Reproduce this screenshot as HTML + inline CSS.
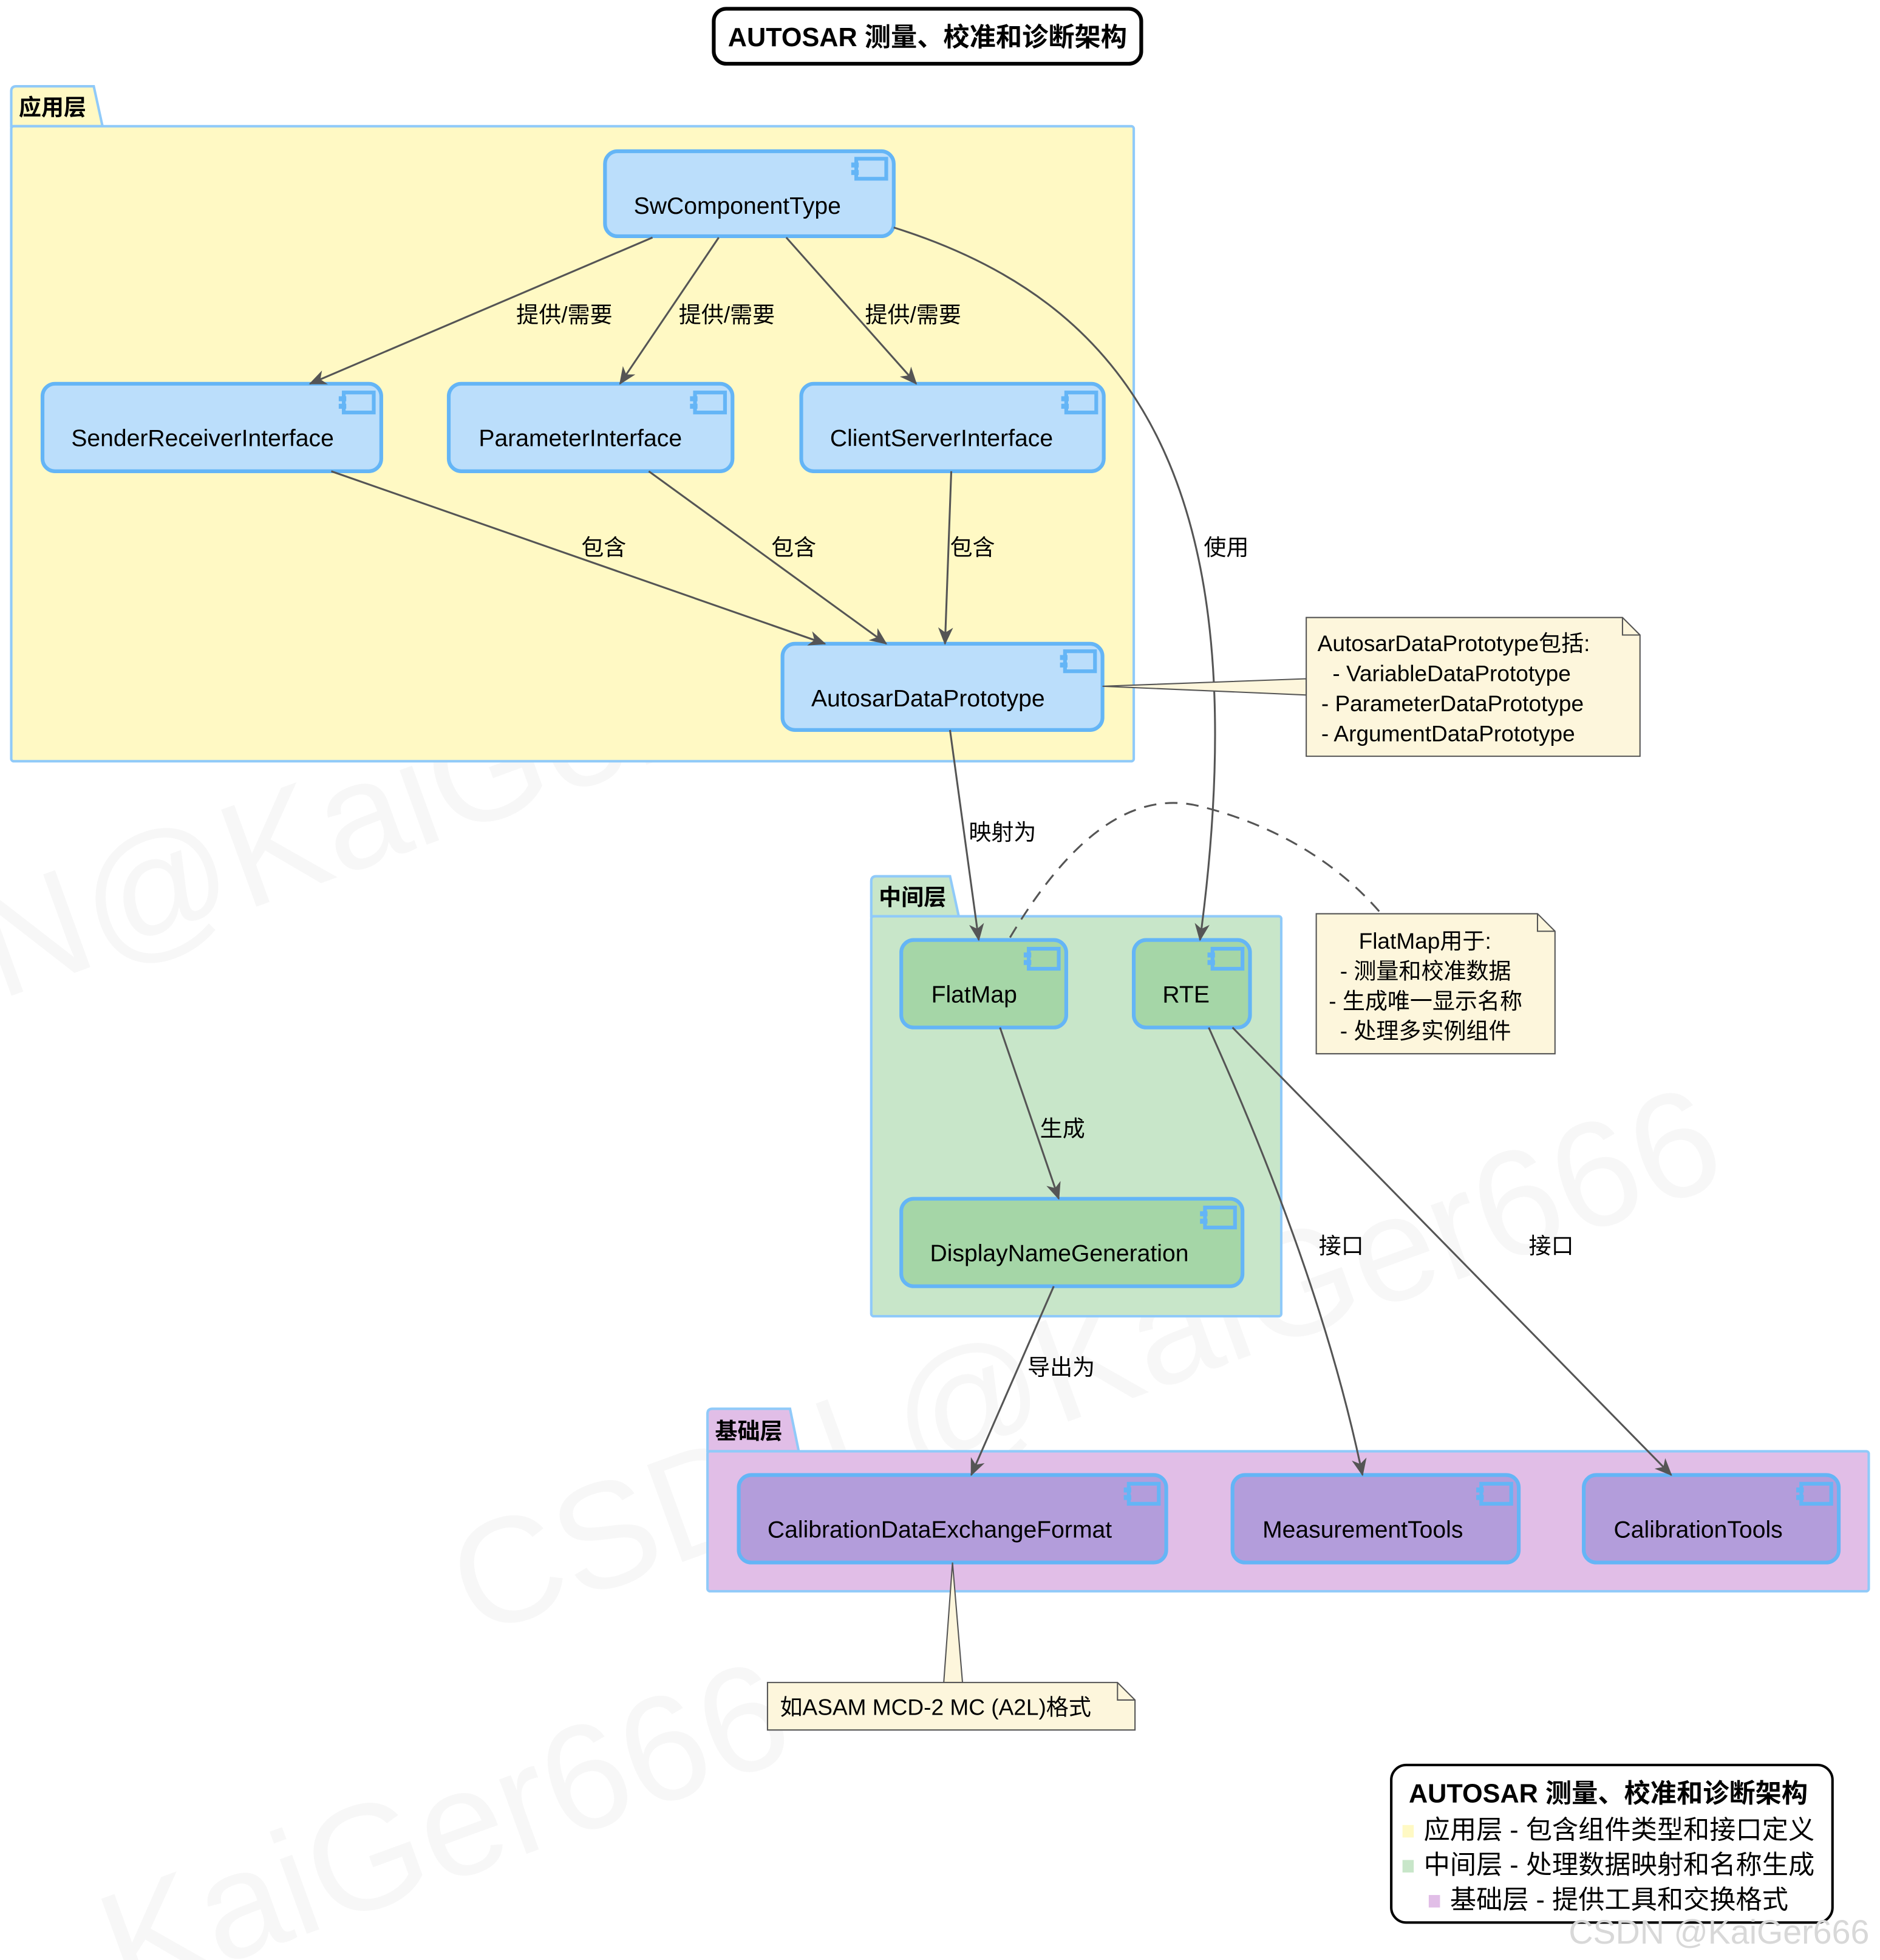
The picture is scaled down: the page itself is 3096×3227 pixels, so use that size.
<!DOCTYPE html>
<html><head><meta charset="utf-8"><style>
html,body{margin:0;padding:0;background:#fff}
svg{display:block}
text{font-family:"Liberation Sans","Noto Sans CJK SC",sans-serif;fill:#000}
</style></head><body>
<svg width="3096" height="3227" viewBox="0 0 1504 1568" preserveAspectRatio="none" xmlns="http://www.w3.org/2000/svg">
<defs>
<marker id="a" markerWidth="14" markerHeight="12" refX="13" refY="6" orient="auto" markerUnits="userSpaceOnUse">
<path d="M0,0 L14,6 L0,12 L4,6 z" fill="#555"/>
</marker>
<g id="ic"><rect x="0" y="0" width="24" height="16" fill="none" stroke="#64b5f6" stroke-width="3"/><rect x="-4" y="3" width="6" height="4" fill="#64b5f6"/><rect x="-4" y="9" width="6" height="4" fill="#64b5f6"/></g>
</defs>
<rect width="1504" height="1568" fill="#fff"/>
<!-- watermarks -->
<g fill="#f3f3f3" font-size="120" opacity="0.6">
<text x="0" y="800" transform="rotate(-20 0 800)" style="fill:#f2f2f2">N@KaiGer666</text>
<text x="380" y="1310" transform="rotate(-20 380 1310)" style="fill:#f2f2f2">CSDN @KaiGer666</text>
<text x="100" y="1600" transform="rotate(-20 100 1600)" style="fill:#f2f2f2">KaiGer666</text>
</g>
<!-- title -->
<rect x="571" y="7" width="342" height="44" rx="10" fill="#fff" stroke="#000" stroke-width="3"/>
<text x="742" y="37" font-size="21" font-weight="bold" text-anchor="middle">AUTOSAR 测量、校准和诊断架构</text>
<!-- packages -->
<path d="M9,101 L9,73 Q9,69 13,69 L75,69 L82,101 Z" fill="#fff9c4" stroke="#90caf9" stroke-width="2"/>
<rect x="9" y="101" width="898" height="508" rx="2" fill="#fff9c4" stroke="#90caf9" stroke-width="2"/>
<text x="15" y="92" font-size="18" font-weight="bold">应用层</text>
<path d="M697,733 L697,705 Q697,701 701,701 L760,701 L767,733 Z" fill="#c8e6c9" stroke="#90caf9" stroke-width="2"/>
<rect x="697" y="733" width="328" height="320" rx="2" fill="#c8e6c9" stroke="#90caf9" stroke-width="2"/>
<text x="703" y="724" font-size="18" font-weight="bold">中间层</text>
<path d="M566,1161 L566,1131 Q566,1127 570,1127 L632,1127 L639,1161 Z" fill="#e1bee7" stroke="#90caf9" stroke-width="2"/>
<rect x="566" y="1161" width="929" height="112" rx="2" fill="#e1bee7" stroke="#90caf9" stroke-width="2"/>
<text x="572" y="1151" font-size="18" font-weight="bold">基础层</text>
<!-- nodes -->
<g stroke="#64b5f6" stroke-width="3">
<rect x="484" y="121" width="231" height="68" rx="10" fill="#bbdefb"/>
<rect x="34" y="307" width="271" height="70" rx="10" fill="#bbdefb"/>
<rect x="359" y="307" width="227" height="70" rx="10" fill="#bbdefb"/>
<rect x="641" y="307" width="242" height="70" rx="10" fill="#bbdefb"/>
<rect x="626" y="515" width="256" height="69" rx="10" fill="#bbdefb"/>
<rect x="721" y="752" width="132" height="70" rx="10" fill="#a5d6a7"/>
<rect x="907" y="752" width="93" height="70" rx="10" fill="#a5d6a7"/>
<rect x="721" y="959" width="273" height="70" rx="10" fill="#a5d6a7"/>
<rect x="591" y="1180" width="342" height="70" rx="10" fill="#b39ddb"/>
<rect x="986" y="1180" width="229" height="70" rx="10" fill="#b39ddb"/>
<rect x="1267" y="1180" width="204" height="70" rx="10" fill="#b39ddb"/>
</g>
<use href="#ic" x="685" y="127"/>
<use href="#ic" x="275" y="314"/>
<use href="#ic" x="556" y="314"/>
<use href="#ic" x="853" y="314"/>
<use href="#ic" x="852" y="521"/>
<use href="#ic" x="823" y="759"/>
<use href="#ic" x="970" y="759"/>
<use href="#ic" x="964" y="966"/>
<use href="#ic" x="903" y="1187"/>
<use href="#ic" x="1185" y="1187"/>
<use href="#ic" x="1441" y="1187"/>
<g font-size="19">
<text x="507" y="171">SwComponentType</text>
<text x="57" y="357">SenderReceiverInterface</text>
<text x="383" y="357">ParameterInterface</text>
<text x="664" y="357">ClientServerInterface</text>
<text x="649" y="565">AutosarDataPrototype</text>
<text x="745" y="802">FlatMap</text>
<text x="930" y="802">RTE</text>
<text x="744" y="1009">DisplayNameGeneration</text>
<text x="614" y="1230">CalibrationDataExchangeFormat</text>
<text x="1010" y="1230">MeasurementTools</text>
<text x="1291" y="1230">CalibrationTools</text>
</g>
<!-- edges -->
<g stroke="#555" stroke-width="1.5" fill="none" marker-end="url(#a)">
<path d="M522,190 L248,307"/>
<path d="M575,190 L496,307"/>
<path d="M629,190 L733,307"/>
<path d="M715,182 C900,240 1010,380 960,752"/>
<path d="M265,377 L660,515"/>
<path d="M519,377 L709,515"/>
<path d="M761,377 L756,515"/>
<path d="M760,584 L783,752"/>
<path d="M800,822 L847,959"/>
<path d="M843,1029 L777,1180"/>
<path d="M967,822 C1020,940 1065,1060 1090,1180"/>
<path d="M986,822 L1337,1180"/>
</g>
<g font-size="18">
<text x="413" y="258">提供/需要</text>
<text x="543" y="258">提供/需要</text>
<text x="692" y="258">提供/需要</text>
<text x="963" y="444">使用</text>
<text x="465" y="444">包含</text>
<text x="617" y="444">包含</text>
<text x="760" y="444">包含</text>
<text x="775" y="672">映射为</text>
<text x="832" y="909">生成</text>
<text x="822" y="1100">导出为</text>
<text x="1055" y="1003">接口</text>
<text x="1223" y="1003">接口</text>
</g>
<!-- notes -->
<path d="M882,549 L1045,543 L1045,556 Z" fill="#fdf6dc" stroke="#555" stroke-width="1"/>
<path d="M1045,494 L1298,494 L1312,508 L1312,605 L1045,605 Z" fill="#fdf6dc" stroke="#555" stroke-width="1"/>
<path d="M1298,494 L1298,508 L1312,508" fill="none" stroke="#555" stroke-width="1"/>
<g font-size="18">
<text x="1054" y="521">AutosarDataPrototype包括:</text>
<text x="1066" y="545">- VariableDataPrototype</text>
<text x="1057" y="569">- ParameterDataPrototype</text>
<text x="1057" y="593">- ArgumentDataPrototype</text>
</g>
<path d="M808,750 C850,680 900,630 960,645 C1020,660 1070,690 1105,731" fill="none" stroke="#555" stroke-width="1.5" stroke-dasharray="10,7"/>
<path d="M1053,731 L1230,731 L1244,745 L1244,843 L1053,843 Z" fill="#fdf6dc" stroke="#555" stroke-width="1"/>
<path d="M1230,731 L1230,745 L1244,745" fill="none" stroke="#555" stroke-width="1"/>
<g font-size="18">
<text x="1087" y="759">FlatMap用于:</text>
<text x="1072" y="783">- 测量和校准数据</text>
<text x="1063" y="807">- 生成唯一显示名称</text>
<text x="1072" y="831">- 处理多实例组件</text>
</g>
<path d="M762,1250 L755,1346 L770,1346 Z" fill="#fdf6dc" stroke="#555" stroke-width="1"/>
<path d="M614,1346 L894,1346 L908,1360 L908,1384 L614,1384 Z" fill="#fdf6dc" stroke="#555" stroke-width="1"/>
<path d="M894,1346 L894,1360 L908,1360" fill="none" stroke="#555" stroke-width="1"/>
<text x="624" y="1372" font-size="18">如ASAM MCD-2 MC (A2L)格式</text>
<!-- legend -->
<rect x="1113" y="1412" width="353" height="126" rx="12" fill="#fff" stroke="#000" stroke-width="2"/>
<text x="1127" y="1442" font-size="21" font-weight="bold">AUTOSAR 测量、校准和诊断架构</text>
<rect x="1122" y="1460" width="9" height="10" fill="#fff9c4"/>
<rect x="1122" y="1488" width="9" height="10" fill="#c8e6c9"/>
<rect x="1143" y="1516" width="9" height="10" fill="#e1bee7"/>
<g font-size="21">
<text x="1139" y="1471">应用层 - 包含组件类型和接口定义</text>
<text x="1139" y="1499">中间层 - 处理数据映射和名称生成</text>
<text x="1160" y="1527">基础层 - 提供工具和交换格式</text>
</g>
<text x="1255" y="1555" font-size="27" style="fill:#d8d8d8">CSDN @KaiGer666</text>
</svg>
</body></html>
